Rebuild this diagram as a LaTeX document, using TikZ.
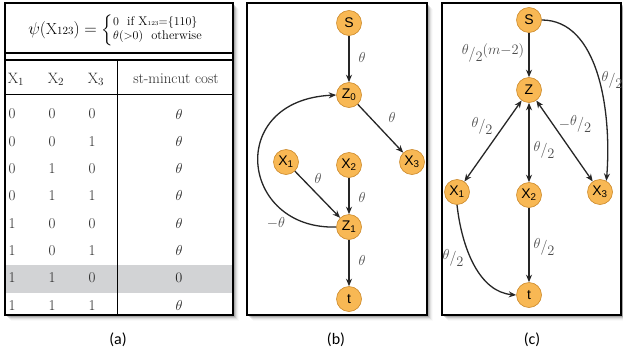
\documentclass[tikz,border=0pt]{standalone}
\usepackage{amsmath}
\usepackage{fontspec}
\newfontfamily\capfont{Carlito}
\newfontfamily\vertfont{Liberation Sans}
\usetikzlibrary{arrows.meta}

\definecolor{vertfill}{RGB}{248,184,84}
\definecolor{vertline}{RGB}{205,138,42}
\definecolor{rowgray}{RGB}{210,211,213}

% theta over two, written as a slanted fraction
\newcommand{\halftheta}{\raisebox{0.5ex}{$\theta$}/\raisebox{-0.55ex}{$2$}}

\tikzset{
  vert/.style={circle, fill=vertfill, draw=vertline, line width=0.6pt, minimum size=25pt, inner sep=0pt, font=\vertfont\fontsize{14}{14}\selectfont},
  edge/.style={line width=1.3pt, black!85, -{Stealth[length=7.5pt,width=6pt]}},
  biedge/.style={edge, {Stealth[length=7.5pt,width=6pt]}-{Stealth[length=7.5pt,width=6pt]}},
  wt/.style={font=\fontsize{15}{15}\selectfont, text=black!70},
  cell/.style={font=\fontsize{15}{15}\selectfont, text=black!85},
  panel/.style={line width=1.6pt, fill=white},
  caption/.style={font=\capfont\fontsize{16}{16}\selectfont}
}

\begin{document}
\begin{tikzpicture}[x=1pt, y=-1pt]
  \useasboundingbox (0,0) rectangle (623,356);

  % soft shadows behind the three panels
  \foreach \d/\o in {1/0.22, 2/0.16, 3/0.11, 4/0.07, 5/0.04, 6/0.02} {
    \fill[black, opacity=\o] (5+\d,3+\d) rectangle (233+\d,315+\d);
    \fill[black, opacity=\o] (247+\d,3+\d) rectangle (427+\d,315+\d);
    \fill[black, opacity=\o] (442+\d,3+\d) rectangle (621+\d,315+\d);
  }

  % ---------------- (a) table ----------------
  \fill[white] (5,3) rectangle (233,315);
  \fill[rowgray] (6,265) rectangle (232,293);
  \draw[line width=1.6pt] (5,3) rectangle (233,315);
  \draw[line width=1.1pt] (5,53) -- (233,53);
  \draw[line width=1.1pt] (5,60) -- (233,60);
  \draw[line width=0.8pt] (5,94) -- (233,94);
  \draw[line width=0.9pt] (117,60) -- (117,315);

  \node[inner sep=0pt] (formula) at (115,30) {\fontsize{16}{17}\selectfont
    \renewcommand{\arraystretch}{0.8}%
    $\psi(\mathrm{X}{\scriptstyle 123}) = \Bigl\{\begin{array}{@{}l@{}}
      \text{\fontsize{12.5}{13}\selectfont $0$\ \ if $\mathrm{X}{\scriptscriptstyle 123}{=}\{110\}$}\\
      \text{\fontsize{12.5}{13}\selectfont $\theta({>}0)$\ \ otherwise}
    \end{array}$};

  \node[cell] (hx1) at (16,79) {$\mathrm{X}_1$};
  \node[cell] (hx2) at (56,79) {$\mathrm{X}_2$};
  \node[cell] (hx3) at (96,79) {$\mathrm{X}_3$};
  \node[cell] (hcost) at (176,79) {st-mincut cost};

  \foreach \a/\b/\c/\v [count=\i] in {0/0/0/\theta, 0/0/1/\theta, 0/1/0/\theta, 0/1/1/\theta,
                                       1/0/0/\theta, 1/0/1/\theta, 1/1/0/0, 1/1/1/\theta} {
    \node[cell] (a\i) at (12,114+27.3*\i-27.3) {\a};
    \node[cell] (b\i) at (52,114+27.3*\i-27.3) {\b};
    \node[cell] (c\i) at (92,114+27.3*\i-27.3) {\c};
    \node[cell] (v\i) at (179,114+27.3*\i-27.3) {$\v$};
  }

  % ---------------- (b) graph ----------------
  \draw[panel] (247,3) rectangle (427,315);
  \node[vert] (bS)  at (349,23)  {S};
  \node[vert] (bZ0) at (349,95)  {Z\textsubscript{0}};
  \node[vert] (bX1) at (286,162) {X\textsubscript{1}};
  \node[vert] (bX2) at (349,165) {X\textsubscript{2}};
  \node[vert] (bX3) at (412,162) {X\textsubscript{3}};
  \node[vert] (bZ1) at (349,227) {Z\textsubscript{1}};
  \node[vert] (bT)  at (349,299) {t};

  \draw[edge] (bS) -- (bZ0);
  \draw[edge] (bZ0) -- (bX3);
  \draw[edge] (bX1) -- (bZ1);
  \draw[edge] (bX2) -- (bZ1);
  \draw[edge] (bZ1) -- (bT);
  \draw[edge] (bZ1.west) .. controls (240,230) and (225,100) .. (bZ0.west);

  \node[wt] (wb1) at (362,57)  {$\theta$};
  \node[wt] (wb2) at (392,117) {$\theta$};
  \node[wt] (wb3) at (318,178) {$\theta$};
  \node[wt] (wb4) at (362,197) {$\theta$};
  \node[wt] (wb5) at (276,223) {$-\theta$};
  \node[wt] (wb6) at (362,260) {$\theta$};

  % ---------------- (c) graph ----------------
  \draw[panel] (442,3) rectangle (621,315);
  \node[vert] (cS)  at (529,20)  {S};
  \node[vert] (cZ)  at (529,90)  {Z};
  \node[vert] (cX1) at (457,192) {X\textsubscript{1}};
  \node[vert] (cX2) at (529,195) {X\textsubscript{2}};
  \node[vert] (cX3) at (600,192) {X\textsubscript{3}};
  \node[vert] (cT)  at (529,295) {t};

  \draw[edge] (cS) -- (cZ);
  \draw[edge] (cS.east) .. controls (598,20) and (612,110) .. (cX3.60);
  \draw[biedge] (cZ) -- (cX1);
  \draw[biedge] (cZ) -- (cX2);
  \draw[biedge] (cZ) -- (cX3);
  \draw[edge] (cX1.south) .. controls (462,250) and (480,292) .. (cT.west);
  \draw[edge] (cX2) -- (cT);

  \node[wt] (wc1) at (493,53)  {\halftheta\raisebox{0.5ex}{$(m{-}2)$}};
  \node[wt] (wc2) at (612,80)  {\halftheta};
  \node[wt] (wc3) at (482,126) {\halftheta};
  \node[wt] (wc4) at (544,150) {\halftheta};
  \node[wt] (wc5) at (575,124) {$-$\halftheta};
  \node[wt] (wc6) at (453,258) {\halftheta};
  \node[wt] (wc7) at (544,247) {\halftheta};

  % captions
  \node[caption] (capa) at (118,340) {(a)};
  \node[caption] (capb) at (336,340) {(b)};
  \node[caption] (capc) at (532,340) {(c)};
\end{tikzpicture}
\end{document}
